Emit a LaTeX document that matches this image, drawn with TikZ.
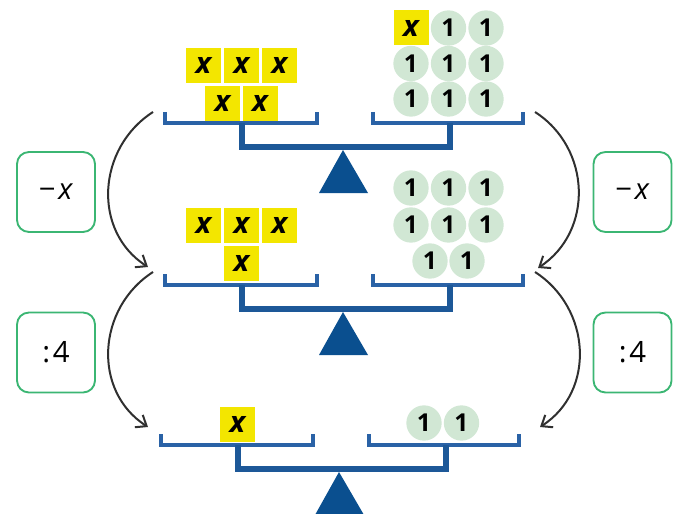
\documentclass[tikz,border=0pt]{standalone}
\usepackage{fontspec}
\setmainfont{Open Sans}
\usetikzlibrary{arrows.meta}
\definecolor{tileyellow}{HTML}{F3E600}
\definecolor{unitgreen}{HTML}{D1E7D4}
\definecolor{panblue}{HTML}{2A62A6}
\definecolor{beamblue}{HTML}{1D5898}
\definecolor{fulcrumblue}{HTML}{0A4F8F}
\definecolor{framegreen}{HTML}{3BB673}
\definecolor{arrowgray}{HTML}{303030}
\newcommand\drawbalance[2]{%
  \begin{scope}[shift={(#1,#2)}]
    \draw[panline] (165,112) -- (165,123) -- (317,123) -- (317,112);
    \draw[panline] (373,112) -- (373,123) -- (523,123) -- (523,112);
    \draw[beamline] (242,123) -- (242,147) -- (450,147) -- (450,123);
    \fill[fulcrumblue] (343,150) -- (368,193) -- (319,193) -- cycle;
  \end{scope}}
\begin{document}
\begin{tikzpicture}[x=0.75pt,y=-0.75pt,
  xtile/.style={fill=tileyellow, minimum size=26.25pt, inner sep=0pt,
    font=\fontsize{22}{22}\selectfont\bfseries\itshape},
  unit/.style={circle, fill=unitgreen, minimum size=26.5pt, inner sep=0pt,
    font=\fontsize{18.5}{18.5}\selectfont\bfseries},
  opbox/.style={draw=framegreen, line width=1.4pt, rounded corners=9pt,
    minimum width=58.5pt, minimum height=60pt, inner sep=0pt,
    font=\fontsize{22}{22}\selectfont},
  panline/.style={draw=panblue, line width=2.3pt},
  beamline/.style={draw=beamblue, line width=4.3pt, line join=miter},
  oparrow/.style={draw=arrowgray, line width=1.5pt,
    -{Straight Barb[length=7pt,width=11pt]}},
]
\useasboundingbox (0,0) rectangle (673,513);
\clip (0,0) rectangle (673,513);

% balances
\drawbalance{0}{0}
\drawbalance{0}{162}
\drawbalance{-4}{322}

% scale 1 left
\node[xtile] (a1) at (203.5,65.5) {x};
\node[xtile] (a2) at (241.5,65.5) {x};
\node[xtile] (a3) at (279.5,65.5) {x};
\node[xtile] (a4) at (222.5,103.5) {x};
\node[xtile] (a5) at (260,103.5) {x};
% scale 1 right
\node[xtile] (b0) at (411,28) {x};
\node[unit] (b1) at (448.5,28) {1};
\node[unit] (b2) at (486,28) {1};
\node[unit] (b3) at (411,63.5) {1};
\node[unit] (b4) at (448.5,63.5) {1};
\node[unit] (b5) at (486,63.5) {1};
\node[unit] (b6) at (411,99) {1};
\node[unit] (b7) at (448.5,99) {1};
\node[unit] (b8) at (486,99) {1};

% scale 2 left
\node[xtile] (c1) at (203.5,225.5) {x};
\node[xtile] (c2) at (241.5,225.5) {x};
\node[xtile] (c3) at (279.5,225.5) {x};
\node[xtile] (c4) at (241.5,263) {x};
% scale 2 right
\node[unit] (d1) at (411,188) {1};
\node[unit] (d2) at (448.5,188) {1};
\node[unit] (d3) at (486,188) {1};
\node[unit] (d4) at (411,225) {1};
\node[unit] (d5) at (448.5,225) {1};
\node[unit] (d6) at (486,225) {1};
\node[unit] (d7) at (430,261) {1};
\node[unit] (d8) at (467,261) {1};

% scale 3
\node[xtile] (e1) at (237.5,424.5) {x};
\node[unit] (f1) at (424,423) {1};
\node[unit] (f2) at (461.5,423) {1};

% operation boxes
\node[opbox] (opl1) at (56,192) {−\kern2pt\textit{x}};
\node[opbox] (opr1) at (632.5,192) {−\kern2pt\textit{x}};
\node[opbox] (opl2) at (56,352.5) {:\kern2pt4};
\node[opbox] (opr2) at (632.5,352.5) {:\kern2pt4};

% arrows
\coordinate (l1s) at (153,112);
\coordinate (l1e) at (148,267);
\coordinate (r1s) at (535,112);
\coordinate (r1e) at (538,268);
\coordinate (l2s) at (153,272);
\coordinate (l2e) at (148,427);
\coordinate (r2s) at (535,272);
\coordinate (r2e) at (540,427);
\draw[oparrow] (l1s) .. controls (97,148) and (92,231) .. (l1e);
\draw[oparrow] (r1s) .. controls (591,148) and (594,231) .. (r1e);
\draw[oparrow] (l2s) .. controls (97,308) and (92,391) .. (l2e);
\draw[oparrow] (r2s) .. controls (591,308) and (596,391) .. (r2e);
\end{tikzpicture}
\end{document}
